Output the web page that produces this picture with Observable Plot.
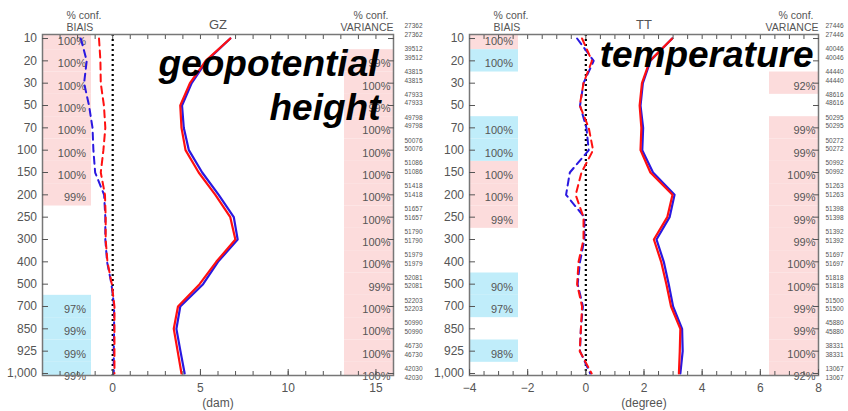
<!DOCTYPE html>
<html><head><meta charset="utf-8">
<script src="https://cdn.jsdelivr.net/npm/d3@7"></script>
<script src="https://cdn.jsdelivr.net/npm/@observablehq/plot@0.6"></script>
<style>
body{margin:0;background:#fff;}
#wrap{display:flex;width:848px;height:411px;overflow:hidden;background:#fff;}
#wrap svg{display:block;flex:none;}
</style></head><body><div id="wrap"></div>
<script>
// pressure levels (hPa), drawn top to bottom
const levels = [10, 20, 30, 50, 70, 100, 150, 200, 250, 300, 400, 500, 700, 850, 925, 1000];

// ---- GZ panel (dam) ----
const gzStdRed   = [6.7, 5.3, 4.4, 3.85, 3.92, 4.15, 4.9, 5.85, 6.7, 6.99, 5.9, 4.95, 3.72, 3.48, 3.7, 3.92];
const gzStdBlue  = [6.7, 5.35, 4.5, 3.95, 4.05, 4.34, 5.1, 6.04, 6.9, 7.12, 6.0, 5.15, 3.85, 3.63, 3.86, 4.1];
const gzBiasRed  = [-0.78, -0.7, -0.68, -0.5, -0.42, -0.53, -0.68, -0.44, -0.4, -0.4, -0.3, -0.05, 0.1, 0.1, 0.1, 0.1];
const gzBiasBlue = [-1.82, -1.48, -1.63, -1.35, -1.15, -1.1, -1.0, -0.49, -0.42, -0.42, -0.32, -0.07, 0.08, 0.08, 0.06, 0.06];
const gzBiasConf  = ["100%", "100%", "100%", "100%", "100%", "100%", "100%", "99%", "", "", "", "", "97%", "99%", "99%", "99%"];
const gzBiasShade = ["red", "red", "red", "red", "red", "red", "red", "red", "", "", "", "", "blue", "blue", "blue", "blue"];
const gzVarConf   = ["", "99%", "100%", "99%", "100%", "100%", "100%", "100%", "100%", "100%", "100%", "99%", "100%", "100%", "100%", "100%"];
const gzVarShade  = ["", "red", "red", "red", "red", "red", "red", "red", "red", "red", "red", "red", "red", "red", "red", "red"];
const gzCounts = [27362, 39512, 43815, 47933, 49798, 50076, 51086, 51418, 51657, 51790, 51979, 52081, 52203, 50990, 46730, 42030];

// ---- TT panel (degree) ----
const ttStdRed   = [2.97, 2.2, 1.93, 1.85, 1.91, 1.88, 2.22, 2.98, 2.8, 2.34, 2.59, 2.77, 2.93, 3.25, 3.23, 3.2];
const ttStdBlue  = [2.97, 2.22, 1.96, 1.88, 1.97, 1.94, 2.31, 3.05, 2.88, 2.43, 2.68, 2.85, 3.0, 3.31, 3.33, 3.25];
const ttBiasRed  = [-0.13, 0.21, -0.08, -0.21, 0.1, 0.25, -0.15, -0.35, -0.08, -0.08, -0.25, -0.3, -0.13, -0.17, -0.21, 0.2];
const ttBiasBlue = [-0.3, 0.27, -0.08, -0.2, 0.02, 0.1, -0.55, -0.68, -0.05, -0.05, -0.2, -0.28, -0.1, -0.17, -0.2, 0.15];
const ttBiasConf  = ["100%", "100%", "", "", "100%", "100%", "100%", "100%", "99%", "", "", "90%", "97%", "", "98%", ""];
const ttBiasShade = ["red", "blue", "", "", "blue", "blue", "red", "red", "red", "", "", "blue", "blue", "", "blue", ""];
const ttVarConf   = ["", "", "92%", "", "99%", "99%", "100%", "99%", "99%", "99%", "100%", "100%", "99%", "99%", "100%", "92%"];
const ttVarShade  = ["", "", "red", "", "red", "red", "red", "red", "red", "red", "red", "red", "red", "red", "red", "red"];
const ttCounts = [27446, 40046, 44440, 48616, 50295, 50272, 50992, 51263, 51398, 51392, 51697, 51818, 51500, 45880, 38331, 13067];

const RED = "#ff1010", BLUE = "#2a18e0";
const PINK = "#fcdcdc", CYAN = "#c0edfa";
const GRAY = "#555";
const FONT = "'Liberation Sans', Arial, sans-serif";

function panel(o) {
  const rows = levels.map((lev, i) => ({
    i, lev,
    stdRed: o.stdRed[i], stdBlue: o.stdBlue[i],
    biasRed: o.biasRed[i], biasBlue: o.biasBlue[i],
    biasConf: o.biasConf[i], biasShade: o.biasShade[i],
    varConf: o.varConf[i], varShade: o.varShade[i],
    count: o.counts[i]
  }));
  const [x0, x1] = o.xDomain;
  const W = 424;
  const plotW = W - o.ml - o.mr;
  const colW = 49;
  const band = {y1: d => d.i - 0.5, y2: d => d.i + 0.5, x1: x0, x2: x1, clip: true};
  const countY = d => d.i * 1.0237 - 0.551;
  const hdr = {fontSize: 10.5, fill: GRAY, lineAnchor: "middle", text: d => d};
  const bold = {fontSize: 37, fontWeight: "bold", fontStyle: "italic", fill: "#000", textAnchor: "end", lineAnchor: "bottom", frameAnchor: "top-right", text: d => d};
  return Plot.plot({
    width: W, height: 411,
    marginTop: 34, marginBottom: 36, marginLeft: o.ml, marginRight: o.mr,
    style: {fontFamily: FONT, background: "#fff", overflow: "visible"},
    x: {domain: o.xDomain},
    y: {domain: [15.09, -0.18]},
    marks: [
      Plot.rect(rows.filter(d => d.biasShade === "red"), {...band, insetRight: plotW - colW, fill: PINK}),
      Plot.rect(rows.filter(d => d.biasShade === "blue"), {...band, insetRight: plotW - colW, fill: CYAN}),
      Plot.rect(rows.filter(d => d.varShade === "red"), {...band, insetLeft: plotW - colW, fill: PINK}),
      Plot.text(rows.filter(d => d.biasConf), {x: x0, y: "i", text: "biasConf", textAnchor: "end", dx: 43.5, dy: 3, fontSize: 11, fill: GRAY}),
      Plot.text(rows.filter(d => d.varConf), {x: x1, y: "i", text: "varConf", textAnchor: "end", dx: -3, dy: 3, fontSize: 11, fill: GRAY}),
      Plot.text(rows, {x: x1, y: countY, text: d => String(d.count), textAnchor: "start", dx: o.countDx, fontSize: 6.5, fill: GRAY}),
      Plot.text(rows, {x: x1, y: countY, text: d => String(d.count), textAnchor: "start", dx: o.countDx, dy: 8.6, fontSize: 6.5, fill: GRAY}),
      Plot.ruleX([0], {stroke: "#000", strokeWidth: 2.2, strokeDasharray: "2,3"}),
      Plot.line(rows, {x: "biasBlue", y: "i", stroke: BLUE, strokeWidth: 2, strokeDasharray: "7,5"}),
      Plot.line(rows, {x: "biasRed", y: "i", stroke: RED, strokeWidth: 2, strokeDasharray: "7,5"}),
      Plot.line(rows, {x: "stdBlue", y: "i", stroke: BLUE, strokeWidth: 2.2}),
      Plot.line(rows, {x: "stdRed", y: "i", stroke: RED, strokeWidth: 2.2}),
      Plot.frame({stroke: "#777", strokeWidth: 1.5}),
      Plot.axisY(d3.range(levels.length), {anchor: "left", tickSize: -6, tickPadding: 11.5, tickFormat: i => levels[i], fontSize: 12, color: GRAY, label: null}),
      Plot.axisY(d3.range(levels.length), {anchor: "right", tickSize: -6, tickFormat: () => "", color: GRAY, label: null}),
      Plot.axisX(o.minorTicks, {anchor: "bottom", tickSize: -4, tickFormat: () => "", color: GRAY, label: null}),
      Plot.axisX(o.minorTicks, {anchor: "top", tickSize: -4, tickFormat: () => "", color: GRAY, label: null}),
      Plot.axisX(o.majorTicks, {anchor: "bottom", tickSize: -6, tickPadding: 14, fontSize: 12, color: GRAY, label: null}),
      Plot.text([o.unit], {...hdr, frameAnchor: "bottom", dy: 28, fontSize: 12}),
      Plot.text(["% conf."], {...hdr, frameAnchor: "top-left", dx: 24, dy: -19}),
      Plot.text(["BIAIS"], {...hdr, frameAnchor: "top-left", dx: 24, dy: -7}),
      Plot.text([o.name], {...hdr, frameAnchor: "top", dy: -10, fontSize: 13}),
      Plot.text(["% conf."], {...hdr, frameAnchor: "top-right", textAnchor: "end", dx: -5, dy: -19}),
      Plot.text(["VARIANCE"], {...hdr, frameAnchor: "top-right", textAnchor: "end", dx: 0, dy: -7}),
      ...o.big.map(b => Plot.text([b.text], {...bold, dx: b.dx, dy: b.dy}))
    ]
  });
}

const wrap = document.getElementById("wrap");
wrap.append(panel({
  name: "GZ", unit: "(dam)", xDomain: [-4, 16], ml: 42, mr: 31, countDx: 11,
  stdRed: gzStdRed, stdBlue: gzStdBlue, biasRed: gzBiasRed, biasBlue: gzBiasBlue,
  biasConf: gzBiasConf, biasShade: gzBiasShade, varConf: gzVarConf, varShade: gzVarShade, counts: gzCounts,
  minorTicks: d3.range(-3, 16), majorTicks: [0, 5, 10, 15],
  big: [{text: "geopotential", dx: -15, dy: 41}, {text: "height", dx: -13, dy: 85}]
}));
wrap.append(panel({
  name: "TT", unit: "(degree)", xDomain: [-4, 8], ml: 45, mr: 30, countDx: 7,
  stdRed: ttStdRed, stdBlue: ttStdBlue, biasRed: ttBiasRed, biasBlue: ttBiasBlue,
  biasConf: ttBiasConf, biasShade: ttBiasShade, varConf: ttVarConf, varShade: ttVarShade, counts: ttCounts,
  minorTicks: d3.range(-3.5, 8, 0.5), majorTicks: [-4, -2, 0, 2, 4, 6, 8],
  big: [{text: "temperature", dx: -5, dy: 32}]
}));
</script>
</body></html>
